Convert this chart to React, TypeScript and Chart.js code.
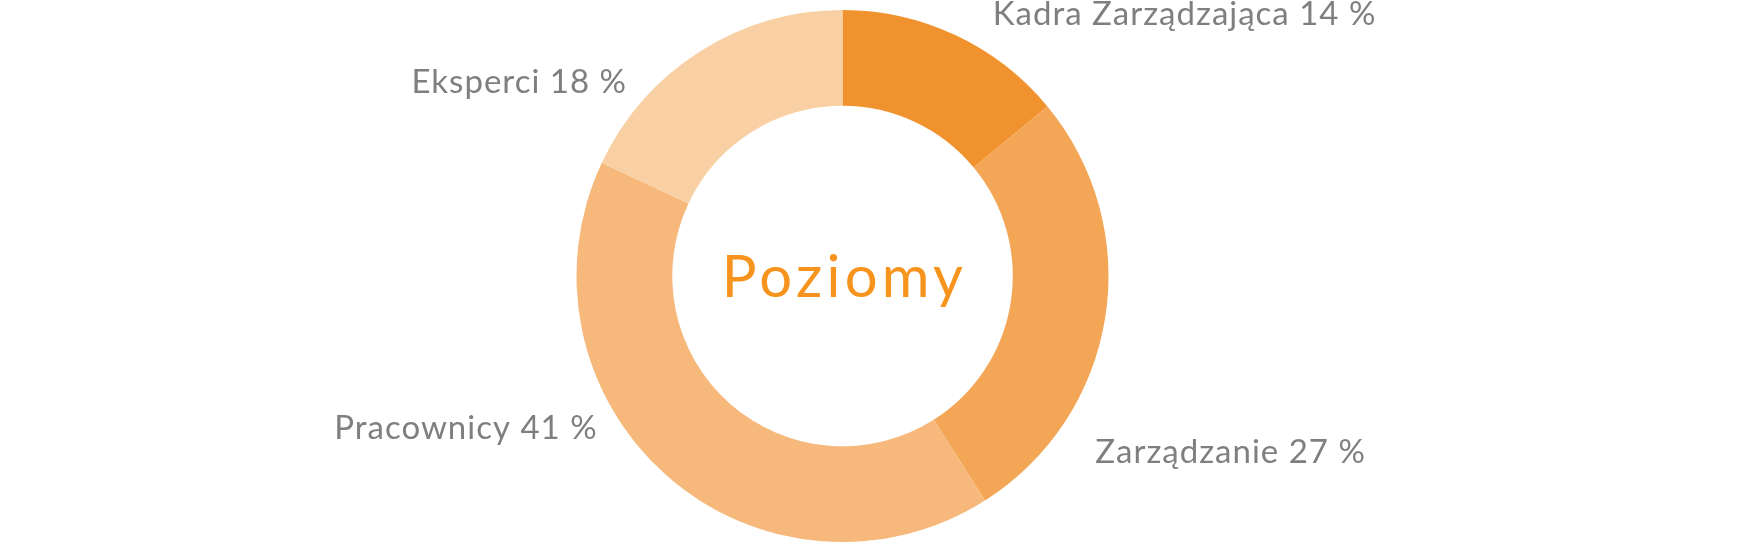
import { useEffect, useRef } from 'react'
import { Chart, registerables } from 'chart.js'
import type { Plugin } from 'chart.js'

Chart.register(...registerables)

const categories = ['Kadra Zarządzająca', 'Zarządzanie', 'Pracownicy', 'Eksperci']
const shares = [14, 27, 41, 18]
const sliceColors = ['#F0922E', '#F4A657', '#F6B97B', '#F9D0A4']
const centerTitle = 'Poziomy'

// label placement relative to the outer edge at each slice's mid angle
const labelOffsets = [
  { dx: 37, dy: -10, align: 'left' },
  { dx: -10, dy: 145, align: 'left' },
  { dx: -69, dy: -37, align: 'right' },
  { dx: -73, dy: 42, align: 'right' },
] as const

const labelFont = '33px Lato'
const titleFont = '58px Lato'

const donutLabels: Plugin<'doughnut'> = {
  id: 'donutLabels',
  afterDraw(chart) {
    const { ctx } = chart
    const meta = chart.getDatasetMeta(0)
    ctx.save()
    ctx.font = labelFont
    ctx.fillStyle = '#7F7F7F'
    ctx.textBaseline = 'alphabetic'
    ;(ctx as any).letterSpacing = '1px'
    meta.data.forEach((el, i) => {
      const arc = el as any
      const { x, y, startAngle, endAngle, outerRadius } = arc.getProps(
        ['x', 'y', 'startAngle', 'endAngle', 'outerRadius'],
        true,
      )
      const mid = (startAngle + endAngle) / 2
      const off = labelOffsets[i]
      const px = x + Math.cos(mid) * outerRadius + off.dx
      const py = y + Math.sin(mid) * outerRadius + off.dy
      ctx.textAlign = off.align
      ctx.fillText(`${categories[i]} ${shares[i]} %`, px, py)
    })

    const first = meta.data[0] as any
    if (first) {
      ctx.font = titleFont
      ctx.fillStyle = '#F7941D'
      ctx.textAlign = 'center'
      ;(ctx as any).letterSpacing = '4.3px'
      ctx.fillText(centerTitle, first.x + 2, first.y + 21)
    }
    ctx.restore()
  },
}

function App() {
  const canvasRef = useRef<HTMLCanvasElement | null>(null)

  useEffect(() => {
    if (!canvasRef.current) return undefined

    const chart = new Chart(canvasRef.current, {
      type: 'doughnut',
      data: {
        labels: categories,
        datasets: [
          {
            data: shares,
            backgroundColor: sliceColors,
            borderWidth: 0,
          },
        ],
      },
      options: {
        responsive: true,
        maintainAspectRatio: false,
        animation: false,
        cutout: '64%',
        layout: {
          padding: { top: 10, bottom: 10, left: 0, right: 75 },
        },
        plugins: {
          legend: { display: false },
          tooltip: { enabled: false },
        },
      },
      plugins: [donutLabels],
    })

    return () => {
      chart.destroy()
    }
  }, [])

  return (
    <div style={{ position: 'absolute', left: 0, top: 0, width: 1760, height: 552 }}>
      <canvas ref={canvasRef} />
    </div>
  )
}

export default App
